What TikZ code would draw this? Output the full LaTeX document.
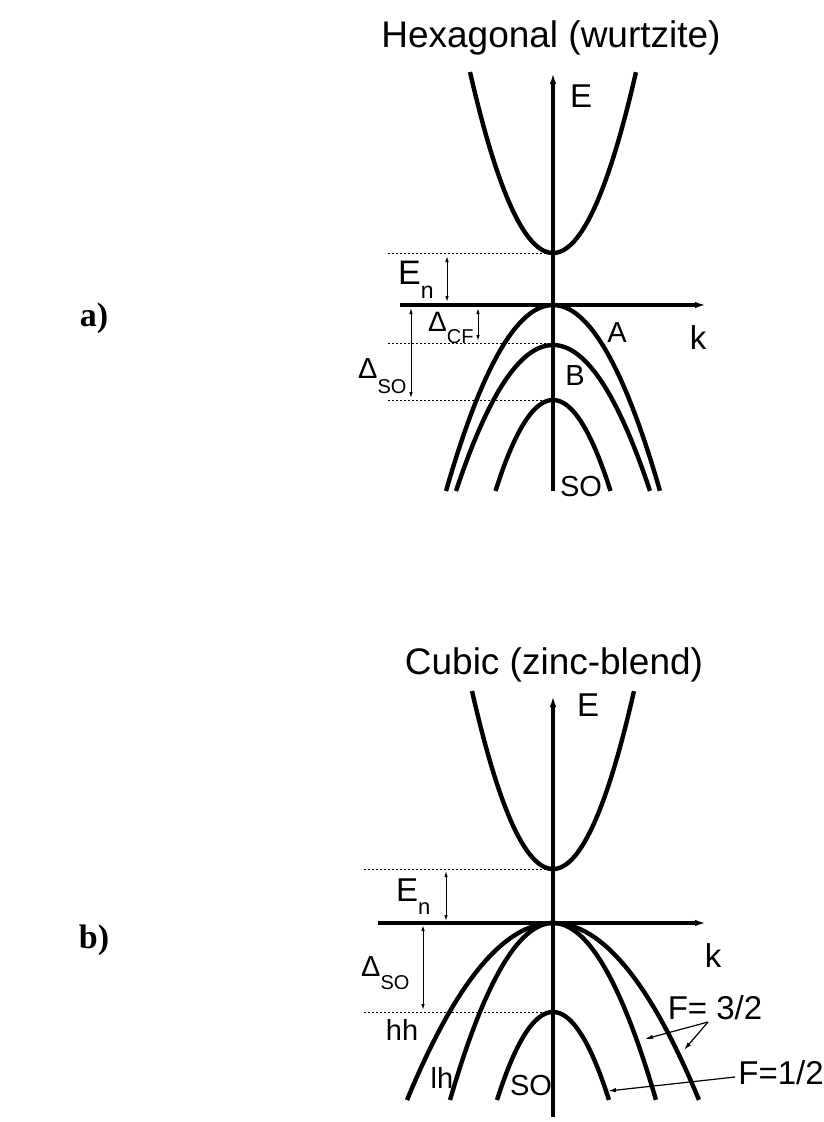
\documentclass[tikz,border=0pt]{standalone}
\usepackage{fontspec}
\setmainfont{Liberation Sans}
\newfontfamily\tagfont{Liberation Serif}
\usetikzlibrary{arrows.meta}

\begin{document}
\begin{tikzpicture}[
  x=1pt, y=-1pt,
  axis/.style={line width=3.2pt, -{Latex[length=11pt, width=6.5pt]}},
  band/.style={line width=4.4pt},
  level/.style={line width=1pt, dash pattern=on 2pt off 2pt},
  gap/.style={line width=1pt,
              {Latex[length=6pt, width=3.5pt]}-{Latex[length=6pt, width=3.5pt]}},
  ptr/.style={line width=1.2pt, -{Latex[length=8pt, width=4.5pt]}},
  title/.style={inner sep=0pt, font=\fontsize{37}{40}\selectfont},
  lbl/.style={inner sep=0pt, font=\fontsize{33}{33}\selectfont},
  blbl/.style={inner sep=0pt, font=\fontsize{29}{29}\selectfont},
  tag/.style={inner sep=0pt, font=\tagfont\bfseries\fontsize{34}{34}\selectfont},
]
\useasboundingbox (0,0) rectangle (823,1122);

% ── a) hexagonal ─────────────────────────────────────────────────────────────
\node[title] (hexT) at (551,38) {Hexagonal (wurtzite)};
\node[tag] (tagA) at (94,318) {a)};

\coordinate (hEb) at (553,491);
\coordinate (hEt) at (553,73);
\coordinate (hkl) at (400,305);
\coordinate (hkr) at (706,305);
\draw[axis] (hEb) -- (hEt);
\draw[axis] (hkl) -- (hkr);
\node[lbl] (hE) at (581,96) {E};
\node[lbl] (hk) at (698,338) {k};

% bands
\draw[band] plot[domain=-1:1, samples=60] ({553+83*\x},{253-181*\x*\x});
\draw[band] plot[domain=-1:1, samples=60] ({553+107*\x},{305+186*\x*\x});
\draw[band] plot[domain=-1:1, samples=60] ({553+97*\x},{345+146*\x*\x});
\draw[band] plot[domain=-1:1, samples=60] ({553+57.5*\x},{400+91*\x*\x});
\node[blbl] (hA) at (617,333) {A};
\node[blbl] (hB) at (575,376) {B};
\node[blbl] (hSO) at (581,487) {SO};

% levels and gaps
\coordinate (hc) at (553,253);
\coordinate (hcL) at (388,253);
\coordinate (hb) at (549,343);
\coordinate (hbL) at (388,343);
\coordinate (hs) at (549,400);
\coordinate (hsL) at (388,400);
\draw[level] (hcL) -- (hc);
\draw[level] (hbL) -- (hb);
\draw[level] (hsL) -- (hs);

\coordinate (hEn0) at (447,256);
\coordinate (hEn1) at (447,302);
\draw[gap] (hEn0) -- (hEn1);
\node[inner sep=0pt, anchor=base west, font=\fontsize{34}{34}\selectfont] (hEn)
  at (398,284) {E\raisebox{-14pt}{\fontsize{23}{23}\selectfont n}};

\coordinate (hCF0) at (478,308);
\coordinate (hCF1) at (478,341);
\draw[gap] (hCF0) -- (hCF1);
\node[inner sep=0pt, anchor=base west, font=\fontsize{28}{28}\selectfont] (hCF)
  at (428,331) {Δ\raisebox{-12pt}{\fontsize{20}{20}\selectfont CF}};

\coordinate (hSO0) at (411,308);
\coordinate (hSO1) at (411,398);
\draw[gap] (hSO0) -- (hSO1);
\node[inner sep=0pt, anchor=base west, font=\fontsize{29}{29}\selectfont] (hDSO)
  at (358,378) {Δ\raisebox{-15pt}{\fontsize{20}{20}\selectfont SO}};

% ── b) cubic ─────────────────────────────────────────────────────────────────
\node[title] (cubT) at (554,665) {Cubic (zinc-blend)};
\node[tag] (tagB) at (94,940) {b)};

\coordinate (cEb) at (553,1117);
\coordinate (cEt) at (553,696);
\coordinate (ckl) at (378,923);
\coordinate (ckr) at (706,923);
\draw[axis] (cEb) -- (cEt);
\draw[axis] (ckl) -- (ckr);
\node[lbl] (cE) at (588,705) {E};
\node[lbl] (ck) at (713,956) {k};

% bands
\draw[band] plot[domain=-1:1, samples=60] ({553+81*\x},{869-178*\x*\x});
\draw[band] plot[domain=-1:1, samples=60] ({553+146*\x},{923+177*\x*\x});
\draw[band] plot[domain=-1:1, samples=60] ({553+103*\x},{923+177*\x*\x});
\draw[band] plot[domain=-1:1, samples=60] ({553+56*\x},{1012+88*\x*\x});
\node[blbl] (chh) at (402,1030) {hh};
\node[blbl] (clh) at (442,1078) {lh};
\node[blbl] (cSO) at (531,1086) {SO};

% levels and gaps
\coordinate (cc) at (553,869);
\coordinate (ccL) at (364,869);
\coordinate (cs) at (549,1012);
\coordinate (csL) at (364,1012);
\draw[level] (ccL) -- (cc);
\draw[level] (csL) -- (cs);

\coordinate (cEn0) at (446,871);
\coordinate (cEn1) at (446,921);
\draw[gap] (cEn0) -- (cEn1);
\node[inner sep=0pt, anchor=base west, font=\fontsize{33}{33}\selectfont] (cEn)
  at (396,901) {E\raisebox{-13pt}{\fontsize{22}{22}\selectfont n}};

\coordinate (cSO0) at (423,925);
\coordinate (cSO1) at (423,1010);
\draw[gap] (cSO0) -- (cSO1);
\node[inner sep=0pt, anchor=base west, font=\fontsize{29}{29}\selectfont] (cDSO)
  at (361,976) {Δ\raisebox{-13pt}{\fontsize{20}{20}\selectfont SO}};

% F labels
\node[lbl] (F32) at (715,1008) {F= 3/2};
\node[lbl] (F12) at (781,1073) {F=1/2};
\coordinate (f32) at (708,1022);
\coordinate (f32a) at (645,1039);
\coordinate (f32b) at (684,1050);
\coordinate (f12) at (735,1077);
\coordinate (f12a) at (608,1091);
\draw[ptr] (f32) -- (f32a);
\draw[ptr] (f32) -- (f32b);
\draw[ptr] (f12) -- (f12a);

\end{tikzpicture}
\end{document}
